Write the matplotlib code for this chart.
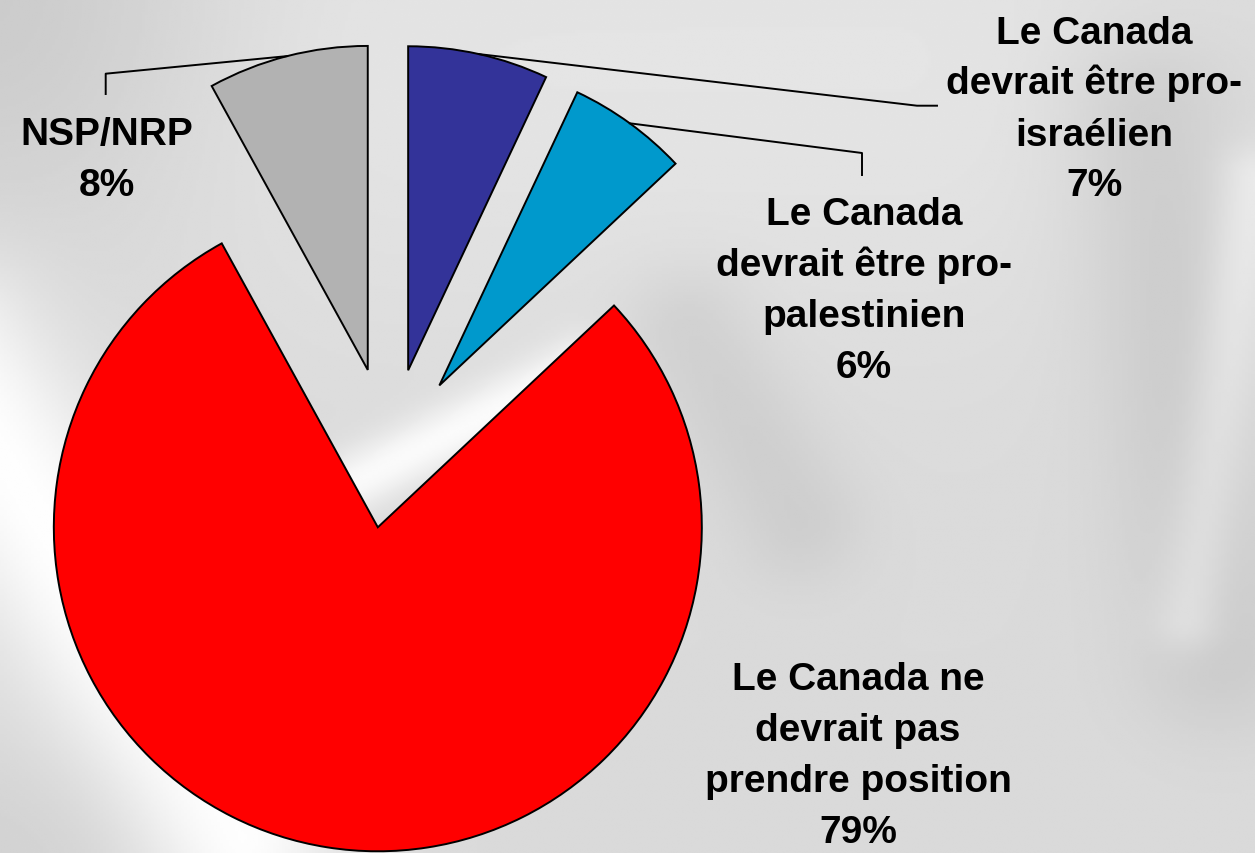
import numpy as np
import matplotlib.pyplot as plt

W, H = 1255, 854

labels = [
    ["Le Canada", "devrait être pro-", "israélien", "7%"],
    ["Le Canada", "devrait être pro-", "palestinien", "6%"],
    ["Le Canada ne", "devrait pas", "prendre position", "79%"],
    ["NSP/NRP", "8%"],
]
values = [7, 6, 79, 8]
colors = ["#333399", "#0099CC", "#FF0000", "#B2B2B2"]
explode = [86, 85, 74, 87]

# label layout in picture pixels (y from top): centre x, first baseline, elbow points
label_pos = [(1094, 43.5), (864, 225), (858, 690), (107, 145)]
line_step = 51
elbows = [
    [(917, 106.7), (937, 106.7)],
    [(862, 154), (862, 176)],
    None,
    [(105.7, 74.7), (105.7, 95)],
]


def band(X, Y, p0, p1, width):
    p0 = np.array(p0, float)
    p1 = np.array(p1, float)
    d = p1 - p0
    n = max(d @ d, 1e-9)
    t = ((X - p0[0]) * d[0] + (Y - p0[1]) * d[1]) / n
    t = np.clip(t, 0, 1)
    dx = X - (p0[0] + t * d[0])
    dy = Y - (p0[1] + t * d[1])
    return np.exp(-(dx**2 + dy**2) / (2 * width**2))


def background():
    X, Y = np.meshgrid(np.linspace(0, W, 420), np.linspace(0, H, 290))
    bg = np.full(X.shape, 0.855)
    bg += 0.14 * band(X, Y, (-60, 360), (240, 840), 70)
    bg -= 0.06 * band(X, Y, (0, 0), (1, 0), 160)
    bg += 0.04 * band(X, Y, (400, 60), (900, 60), 200)
    bg += 0.12 * band(X, Y, (340, 490), (580, 370), 22)
    bg -= 0.05 * band(X, Y, (690, 330), (800, 520), 45)
    bg -= 0.06 * band(X, Y, (1150, 120), (1220, 650), 60)
    bg += 0.07 * band(X, Y, (1255, 180), (1190, 620), 25)
    bg -= 0.03 * band(X, Y, (0, 854), (60, 854), 80)
    return np.clip(bg, 0, 1)


fig = plt.figure(figsize=(W / 100, H / 100), dpi=100)
ax = fig.add_axes([0, 0, 1, 1])
ax.imshow(background(), cmap="gray", vmin=0, vmax=1, extent=(0, W, 0, H),
          origin="upper", interpolation="bilinear", zorder=0)

wedges, _ = ax.pie(values, colors=colors, explode=explode, radius=324,
                   center=(389.4, H - 455.2), startangle=90, counterclock=False,
                   wedgeprops=dict(edgecolor="black", linewidth=1.4, zorder=2))

for w, lab, (cx, by), elb in zip(wedges, labels, label_pos, elbows):
    for k, line in enumerate(lab):
        ax.text(cx, H - (by + k * line_step), line, ha="center", va="baseline",
                fontsize=28, fontweight="bold", family="Liberation Sans",
                color="black", zorder=4)
    if elb is None:
        continue
    mid = np.deg2rad((w.theta1 + w.theta2) / 2)
    sx = w.center[0] + w.r * np.cos(mid)
    sy = w.center[1] + w.r * np.sin(mid)
    xs = [sx] + [p[0] for p in elb]
    ys = [sy] + [H - p[1] for p in elb]
    ax.plot(xs, ys, color="black", linewidth=1.4, zorder=3)

ax.set_xlim(0, W)
ax.set_ylim(0, H)
ax.set_aspect("auto")
ax.axis("off")
fig.savefig("out.png", dpi=100)
